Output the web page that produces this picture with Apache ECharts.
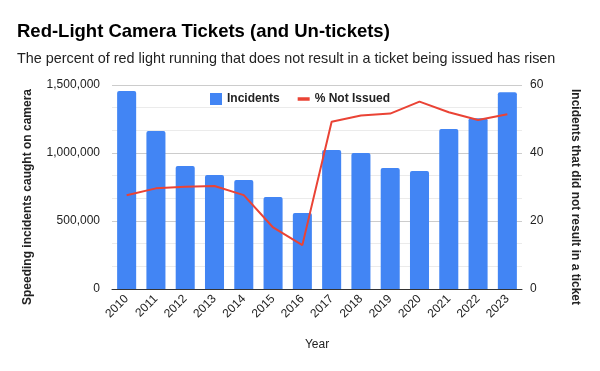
<!DOCTYPE html>
<html><head><meta charset="utf-8">
<script src="https://cdn.jsdelivr.net/npm/echarts@6/dist/echarts.min.js"></script>
<style>html,body{margin:0;padding:0;background:#fff}#c{width:600px;height:371px}</style>
</head><body><div id="c"></div>
<script>
const years = ['2010','2011','2012','2013','2014','2015','2016','2017','2018','2019','2020','2021','2022','2023'];
const incidents = [1456000,1162000,904000,838000,801000,676000,559000,1022000,1000000,890000,868000,1176000,1255000,1446000];
const notIssued = [27.6,29.6,30.1,30.3,27.6,18.1,12.9,49.2,51.0,51.6,55.1,52.0,49.7,51.4];
const leftTicks = [0,500000,1000000,1500000];
const rightTicks = [0,20,40,60];

const font = 'Liberation Sans, Arial, sans-serif';
const chart = echarts.init(document.getElementById('c'));
chart.setOption({
  animation:false,
  textStyle:{fontFamily:font},
  title:[
    {text:'Red-Light Camera Tickets (and Un-tickets)', left:12, top:17, textStyle:{fontFamily:font,fontSize:18.5,fontWeight:'bold',color:'#000'}},
    {text:'The percent of red light running that does not result in a ticket being issued has risen', left:12, top:47, textStyle:{fontFamily:font,fontSize:14.4,fontWeight:'normal',color:'#222'}}
  ],
  legend:{
    top:88, left:'center',
    itemWidth:12, itemHeight:12, itemGap:18,
    textStyle:{fontFamily:font,fontSize:12,fontWeight:'bold',color:'#222'},
    data:[{name:'Incidents',icon:'rect'},{name:'% Not Issued',icon:'path://M0,0H12V3.5H0Z'}]
  },
  grid:{left:112,right:78,top:85,bottom:82},
  xAxis:{
    type:'category', data:years,
    name:'Year', nameLocation:'middle', nameGap:50,
    nameTextStyle:{fontFamily:font,fontSize:12,color:'#222'},
    axisTick:{show:false},
    axisLine:{lineStyle:{color:'#333',width:1}},
    axisLabel:{rotate:45,fontSize:12,color:'#222',margin:8,interval:0}
  },
  yAxis:[
    {type:'value',min:0,max:1500000,interval:500000,
     name:'Speeding incidents caught on camera',nameLocation:'middle',nameGap:78,
     nameTextStyle:{fontFamily:font,fontSize:12,fontWeight:'bold',color:'#222',padding:[0,20,0,0]},
     axisLabel:{fontSize:12,color:'#222',margin:12,formatter:v=>leftTicks.includes(v)?v.toLocaleString('en-US'):''},
     axisLine:{show:false},axisTick:{show:false},
     splitLine:{lineStyle:{color:'#ccc'}},
     minorTick:{show:false,splitNumber:3},
     minorSplitLine:{show:true,lineStyle:{color:'#ebebeb'}}
    },
    {type:'value',min:0,max:60,interval:20,position:'right',
     name:'Incidents that did not result in a ticket',nameLocation:'middle',nameGap:47,nameRotate:-90,
     nameTextStyle:{fontFamily:font,fontSize:12,fontWeight:'bold',color:'#222',padding:[0,0,0,20]},
     axisLabel:{fontSize:12,color:'#222',margin:8,formatter:v=>rightTicks.includes(v)?String(v):''},
     axisLine:{show:false},axisTick:{show:false},
     splitLine:{show:false}
    }
  ],
  series:[
    {name:'Incidents',type:'bar',data:incidents,barWidth:'65%',yAxisIndex:0,
     itemStyle:{color:'#4285F4',borderRadius:[2,2,0,0]}},
    {name:'% Not Issued',type:'line',data:notIssued,yAxisIndex:1,symbol:'none',
     lineStyle:{color:'#EA4335',width:2},itemStyle:{color:'#EA4335'}}
  ]
});
</script></body></html>
